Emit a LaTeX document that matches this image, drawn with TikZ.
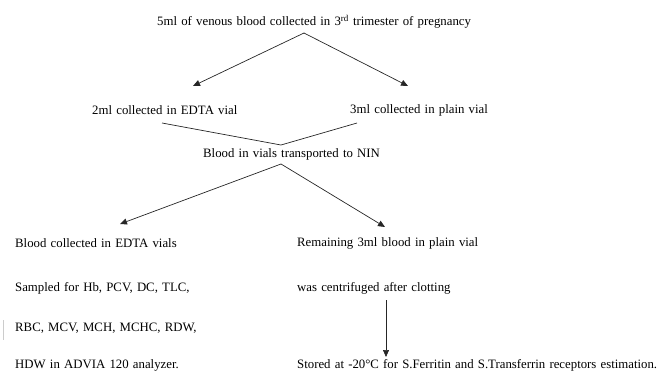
\documentclass[tikz,border=0pt]{standalone}
\usepackage{fontspec}
\setmainfont{Liberation Serif}
\usetikzlibrary{arrows.meta}
\newcommand\mywsp{\spaceskip=4.2pt plus 1pt minus 0.5pt\relax}
\begin{document}
\begin{tikzpicture}[x=1pt,y=-1pt,
  txt/.style={anchor=west,inner sep=0pt,font=\fontsize{12.8}{14}\selectfont\mywsp},
  con/.style={draw=black!85,line width=0.7pt},
  arr/.style={con,-{Triangle[length=7pt,width=6pt]}}]
\useasboundingbox (0,0) rectangle (661,381);
\node[txt] (top) at (157,22) {5ml of venous blood collected in 3\textsuperscript{rd} trimester of pregnancy};
\node[txt] (l1) at (92,110) {2ml collected in EDTA vial};
\node[txt] (r1) at (350,110) {3ml collected in plain vial};
\node[txt] (mid) at (203,154) {Blood in vials transported to NIN};
\node[txt] (l2) at (15,243) {Blood collected in EDTA vials};
\node[txt] (r2) at (297,243) {Remaining 3ml blood in plain vial};
\node[txt] (l3) at (15,288) {Sampled for Hb, PCV, DC, TLC,};
\node[txt] (l4) at (15,328) {RBC, MCV, MCH, MCHC, RDW,};
\node[txt] (l5) at (15,365) {HDW in ADVIA 120 analyzer.};
\node[txt] (r3) at (297,288) {was centrifuged after clotting};
\node[txt] (r4) at (297,365) {Stored at -20°C for S.Ferritin and S.Transferrin receptors estimation.};
\coordinate (a0) at (304,33);
\coordinate (t1) at (193,86);
\coordinate (t2) at (408,86);
\coordinate (v1) at (162,123);
\coordinate (v2) at (357,123);
\coordinate (vb) at (281,145);
\coordinate (b0) at (281,164);
\coordinate (t3) at (120,224);
\coordinate (t4) at (385,227);
\coordinate (d1) at (386,300);
\coordinate (d2) at (386,357);
\draw[arr] (a0) -- (t1);
\draw[arr] (a0) -- (t2);
\draw[con] (v1) -- (vb) -- (v2);
\draw[arr] (b0) -- (t3);
\draw[arr] (b0) -- (t4);
\draw[arr] (d1) -- (d2);
\coordinate (g1) at (3,320);
\coordinate (g2) at (3,340);
\draw[black!20,line width=0.8pt] (g1) -- (g2);
\end{tikzpicture}
\end{document}
